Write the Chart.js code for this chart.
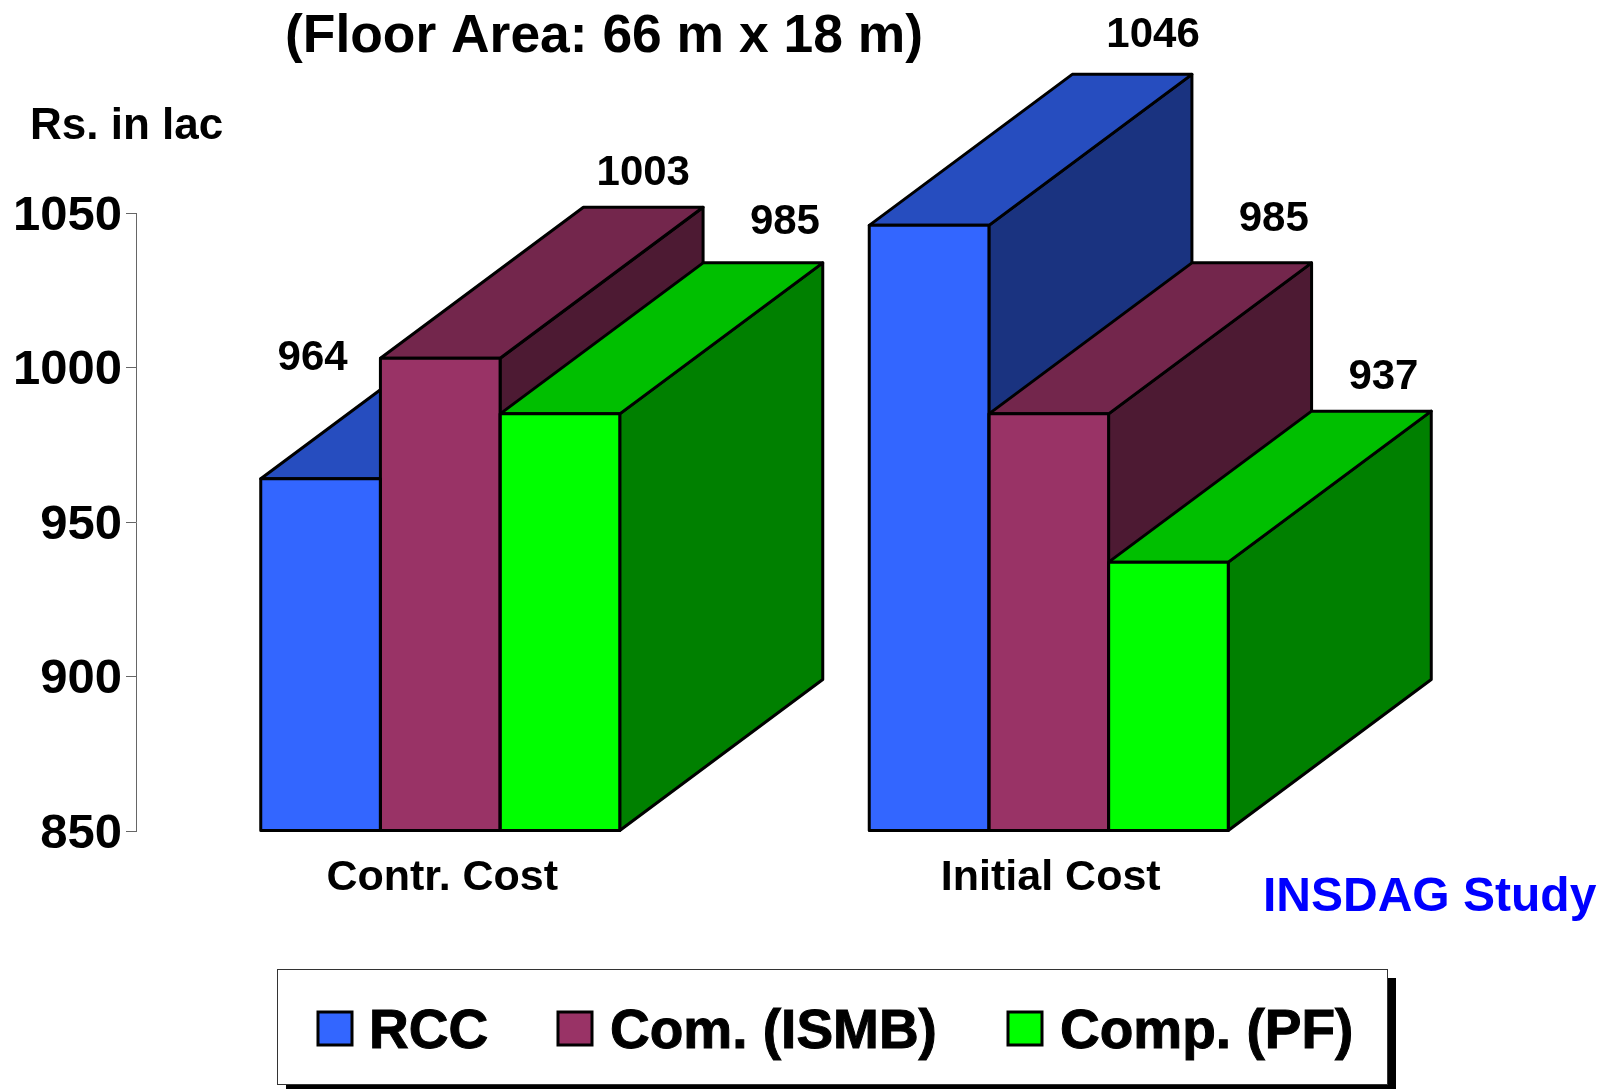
<!DOCTYPE html>
<html>
<head>
<meta charset="utf-8">
<title>Floor Area: 66 m x 18 m</title>
<script src="https://cdn.jsdelivr.net/npm/chart.js@4"></script>
<style>
  html, body { margin: 0; padding: 0; background: #fff; }
  canvas { display: block; }
</style>
</head>
<body>
<canvas id="costChart" width="1608" height="1089"></canvas>
<script>
/* ------------------------------------------------------------
   DATA
------------------------------------------------------------ */
const categories = ["Contr. Cost", "Initial Cost"];
const seriesNames = ["RCC", "Com. (ISMB)", "Comp. (PF)"];
const rccValues = [964, 1046];
const ismbValues = [1003, 985];
const pfValues = [985, 937];
const yTicks = [850, 900, 950, 1000, 1050];

/* ------------------------------------------------------------
   STYLE
------------------------------------------------------------ */
const FONT = "'Liberation Sans', Arial, sans-serif";
const DEPTH_X = 203;
const DEPTH_Y = 151;

const frontColors = ["#3366FF", "#993366", "#00FF00"];
const topColors = ["#264DBF", "#73264C", "#00BF00"];
const sideColors = ["#1A3380", "#4D1A33", "#008000"];

// label offsets from the top centre of each bar: [series][category]
const labelOffsets = [
  [[-8, -120], [224, -190]],
  [[203, -185], [225, -194]],
  [[225, -191], [215, -185]]
];

const legendFrame = { x: 277, y: 969, w: 1110, h: 115, shadow: 9 };
const legendSwatchX = [318, 558, 1008];
const legendTextX = [369, 610, 1060];

/* ------------------------------------------------------------
   PLUGINS
------------------------------------------------------------ */
function polygon(ctx, points, fill) {
  ctx.beginPath();
  points.forEach((p, i) => (i ? ctx.lineTo(p[0], p[1]) : ctx.moveTo(p[0], p[1])));
  ctx.closePath();
  ctx.fillStyle = fill;
  ctx.fill();
  ctx.stroke();
}

// top and right faces go in back to front, before the library paints the bar fronts
const depthFaces = {
  id: "depthFaces",
  beforeDatasetsDraw(chart) {
    const ctx = chart.ctx;
    ctx.save();
    ctx.lineWidth = 3;
    ctx.lineJoin = "round";
    ctx.strokeStyle = "#000";
    chart.data.datasets.forEach((ds, d) => {
      chart.getDatasetMeta(d).data.forEach(bar => {
        const left = bar.x - bar.width / 2;
        const right = bar.x + bar.width / 2;
        polygon(ctx, [
          [right, bar.y], [right + DEPTH_X, bar.y - DEPTH_Y],
          [right + DEPTH_X, bar.base - DEPTH_Y], [right, bar.base]
        ], sideColors[d]);
        polygon(ctx, [
          [left, bar.y], [left + DEPTH_X, bar.y - DEPTH_Y],
          [right + DEPTH_X, bar.y - DEPTH_Y], [right, bar.y]
        ], topColors[d]);
      });
    });
    ctx.restore();
  },
  // outline sits centred on the bar edge, the library's own border would sit inside it
  afterDatasetsDraw(chart) {
    const ctx = chart.ctx;
    ctx.save();
    ctx.lineWidth = 3;
    ctx.lineJoin = "round";
    ctx.strokeStyle = "#000";
    chart.data.datasets.forEach((ds, d) => {
      chart.getDatasetMeta(d).data.forEach(bar => {
        ctx.strokeRect(bar.x - bar.width / 2, bar.y, bar.width, bar.base - bar.y);
      });
    });
    ctx.restore();
  }
};

const valueLabels = {
  id: "valueLabels",
  afterDatasetsDraw(chart) {
    const ctx = chart.ctx;
    ctx.save();
    ctx.font = `bold 42px ${FONT}`;
    ctx.fillStyle = "#000";
    ctx.textAlign = "center";
    ctx.textBaseline = "middle";
    chart.data.datasets.forEach((ds, d) => {
      chart.getDatasetMeta(d).data.forEach((bar, i) => {
        const off = labelOffsets[d][i];
        ctx.fillText(ds.data[i], bar.x + off[0], bar.y + off[1]);
      });
    });
    ctx.restore();
  }
};

const annotations = {
  id: "annotations",
  afterDraw(chart) {
    const ctx = chart.ctx;
    ctx.save();
    ctx.textBaseline = "middle";
    ctx.textAlign = "left";

    ctx.fillStyle = "#000";
    ctx.font = `bold 53.4px ${FONT}`;
    ctx.fillText("(Floor Area: 66 m x 18 m)", 285, 37);

    ctx.font = `bold 44px ${FONT}`;
    ctx.fillText("Rs. in lac", 30, 127);

    ctx.fillStyle = "#0000FF";
    ctx.font = `bold 48px ${FONT}`;
    ctx.fillText("INSDAG Study", 1263, 898);

    // legend box with its hard shadow
    const f = legendFrame;
    ctx.fillStyle = "#000";
    ctx.fillRect(f.x + f.shadow, f.y + f.shadow, f.w, f.h);
    ctx.fillStyle = "#fff";
    ctx.strokeStyle = "#333";
    ctx.lineWidth = 1;
    ctx.fillRect(f.x, f.y, f.w, f.h);
    ctx.strokeRect(f.x + 0.5, f.y + 0.5, f.w, f.h);

    ctx.font = `bold 55px ${FONT}`;
    seriesNames.forEach((name, i) => {
      ctx.fillStyle = frontColors[i];
      ctx.strokeStyle = "#000";
      ctx.lineWidth = 3;
      ctx.fillRect(legendSwatchX[i], 1012, 34, 33);
      ctx.strokeRect(legendSwatchX[i], 1012, 34, 33);
      ctx.fillStyle = "#000";
      ctx.lineWidth = 1;
      ctx.fillText(name, legendTextX[i], 1033);
      ctx.strokeText(name, legendTextX[i], 1033);
    });
    ctx.restore();
  }
};

/* ------------------------------------------------------------
   CHART
------------------------------------------------------------ */
const seriesValues = [rccValues, ismbValues, pfValues];

new Chart(document.getElementById("costChart").getContext("2d"), {
  type: "bar",
  data: {
    labels: categories,
    datasets: seriesNames.map((name, i) => ({
      label: name,
      data: seriesValues[i],
      base: yTicks[0],
      backgroundColor: frontColors[i],
      borderWidth: 0
    }))
  },
  options: {
    responsive: false,
    animation: false,
    layout: { padding: { top: 213, right: 255, bottom: 0, left: 0 } },
    datasets: { bar: { barPercentage: 1, categoryPercentage: 0.59 } },
    plugins: { legend: { display: false }, tooltip: { enabled: false } },
    scales: {
      x: {
        grid: { display: false },
        border: { display: false },
        ticks: {
          color: "#000",
          font: { family: FONT, weight: "bold", size: 43 },
          padding: 13,
          labelOffset: 2,
          maxRotation: 0
        },
        afterFit: scale => { scale.height = 258; }
      },
      y: {
        min: yTicks[0],
        max: yTicks[yTicks.length - 1],
        afterBuildTicks: scale => { scale.ticks = yTicks.map(v => ({ value: v })); },
        grid: { drawOnChartArea: false, tickLength: 10, tickColor: "#666", tickWidth: 1 },
        border: { display: true, color: "#666", width: 1 },
        ticks: {
          color: "#000",
          font: { family: FONT, weight: "bold", size: 49 },
          padding: 4,
          labelOffset: 3,
          callback: v => String(v)
        },
        afterFit: scale => { scale.width = 136; }
      }
    }
  },
  plugins: [depthFaces, valueLabels, annotations]
});
</script>
</body>
</html>
